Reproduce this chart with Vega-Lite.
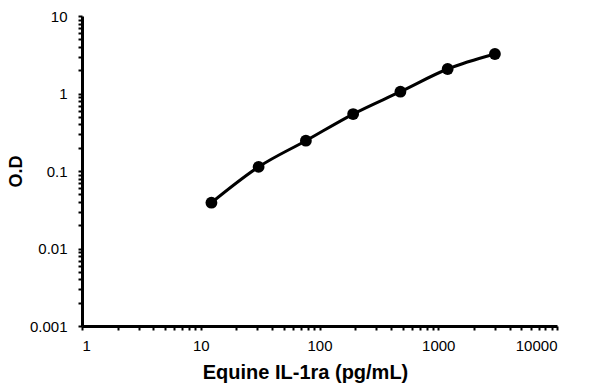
{
  "$schema": "https://vega.github.io/schema/vega-lite/v6.json",
  "width": 475,
  "height": 310,
  "autosize": {"type": "none"},
  "padding": {"left": 82, "top": 16, "right": 43, "bottom": 60},
  "background": "white",
  "config": {
    "view": {"stroke": null},
    "font": "Liberation Sans",
    "axis": {
      "grid": false,
      "domainColor": "black",
      "domainWidth": 3,
      "tickColor": "black",
      "tickWidth": 2,
      "tickSize": 4,
      "labelColor": "black",
      "labelFont": "Liberation Sans",
      "labelFontSize": 15,
      "titleFont": "Liberation Sans",
      "titleFontWeight": "bold",
      "titleColor": "black"
    }
  },
  "data": {
    "values": [
      {"conc": 12.3, "od": 0.039},
      {"conc": 30.7, "od": 0.113},
      {"conc": 76.8, "od": 0.246},
      {"conc": 192, "od": 0.543},
      {"conc": 480, "od": 1.055},
      {"conc": 1200, "od": 2.07},
      {"conc": 3000, "od": 3.23}
    ]
  },
  "encoding": {
    "x": {
      "field": "conc",
      "type": "quantitative",
      "scale": {"type": "log", "domain": [1, 10000], "nice": false},
      "axis": {
        "title": "Equine IL-1ra (pg/mL)",
        "titleFontSize": 20,
        "titlePadding": 9,
        "titleX": 223,
        "titleAlign": "center",
        "labelPadding": 8,
        "values": [1,2,3,4,5,6,7,8,9,10,20,30,40,50,60,70,80,90,100,200,300,400,500,600,700,800,900,1000,2000,3000,4000,5000,6000,7000,8000,9000,10000],
        "labelExpr": "indexof([1,10,100,1000,10000], datum.value) >= 0 ? '' + datum.value : ''"
      }
    },
    "y": {
      "field": "od",
      "type": "quantitative",
      "scale": {"type": "log", "domain": [0.001, 10], "nice": false},
      "axis": {
        "title": "O.D",
        "titleFontSize": 18,
        "titlePadding": 4,
        "labelPadding": 11,
        "values": [0.001,0.002,0.003,0.004,0.005,0.006,0.007,0.008,0.009,0.01,0.02,0.03,0.04,0.05,0.06,0.07,0.08,0.09,0.1,0.2,0.3,0.4,0.5,0.6,0.7,0.8,0.9,1,2,3,4,5,6,7,8,9,10],
        "labelExpr": "indexof([0.001,0.01,0.1,1,10], datum.value) >= 0 ? '' + datum.value : ''"
      }
    }
  },
  "layer": [
    {"mark": {"type": "line", "color": "black", "strokeWidth": 3, "interpolate": "monotone"}},
    {"mark": {"type": "point", "filled": true, "color": "black", "size": 140, "opacity": 1}}
  ]
}
